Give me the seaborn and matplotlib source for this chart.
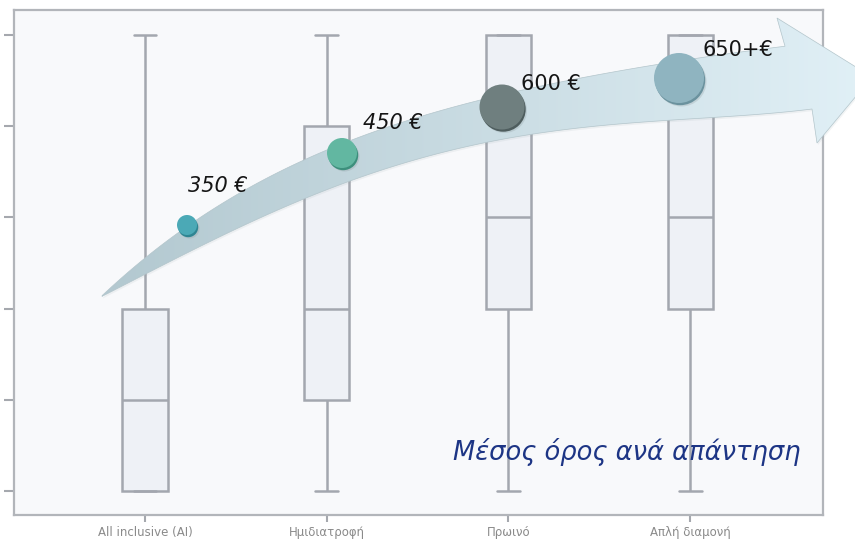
import numpy as np
import pandas as pd
import matplotlib
matplotlib.use("Agg")
import matplotlib.pyplot as plt
from matplotlib.patches import Polygon, Circle
import seaborn as sns

# Board options (x axis) and the answers given for each (1-6 scale)
categories = ["All inclusive (AI)", "Ημιδιατροφή", "Πρωινό", "Απλή διαμονή"]
answers_ai = [1, 1, 2, 3, 6]
answers_half = [1, 2, 3, 5, 6]
answers_breakfast = [1, 3, 4, 6, 6]
answers_room = [1, 3, 4, 6, 6]
y_ticks = [1, 2, 3, 4, 5, 6]

# Average spend per answer, shown on the arrow
price_values = [350, 450, 600, 650]
price_labels = ["350 €", "450 €", "600 €", "650+€"]
caption = "Μέσος όρος ανά απάντηση"

df = pd.DataFrame({
    "option": sum([[c] * len(v) for c, v in zip(
        categories, [answers_ai, answers_half, answers_breakfast, answers_room])], []),
    "answer": answers_ai + answers_half + answers_breakfast + answers_room,
})

sns.set_style("white")
W, H = 855, 543
fig = plt.figure(figsize=(W / 100, H / 100), dpi=100)
fig.patch.set_facecolor("white")

# main plotting area in pixel terms
left, right, top, bottom = 14, 823, 10, 515
ax = fig.add_axes([left / W, 1 - bottom / H, (right - left) / W, (bottom - top) / H])
ax.set_facecolor("#f8f9fb")

sns.boxplot(data=df, x="option", y="answer", order=categories, ax=ax,
            width=0.25, color="#eef1f6", saturation=1, linecolor="#a3a7af",
            linewidth=1.8, whis=1.5, showfliers=False)

ax.set_xlim(-0.72, 3.73)
ax.set_ylim(1 - 24 / 91.2, 6 + 25 / 91.2)
ax.set_yticks(y_ticks)
ax.set_xlabel("")
ax.set_ylabel("")
ax.tick_params(axis="y", left=True, length=7, width=1.5, color="#a5a8ae", labelleft=False)
ax.tick_params(axis="x", bottom=True, length=5, width=1.5, color="#a5a8ae",
               labelsize=8.5, labelcolor="#8a8a8a", pad=3)
for s in ax.spines.values():
    s.set_color("#b2b5ba")
    s.set_linewidth(1.6)

# overlay in pixel coordinates for the arrow, buttons and captions
ov = fig.add_axes([0, 0, 1, 1], zorder=5)
ov.set_xlim(0, W)
ov.set_ylim(H, 0)
ov.axis("off")
ov.patch.set_alpha(0)

top_pts = np.array([(102, 295), (143, 262), (190, 222), (240, 193), (290, 168),
                    (342, 143), (430, 113), (483, 100), (530, 90), (590, 74),
                    (657, 65), (723, 55), (785, 46)], float)
bot_pts = np.array([(102, 295), (143, 277), (190, 252), (240, 227), (290, 205),
                    (330, 188), (397, 163), (463, 147), (530, 137), (590, 128),
                    (690, 117), (777, 112), (812, 110)], float)
ct = np.polyfit(top_pts[:, 0], top_pts[:, 1], 4)
cb = np.polyfit(bot_pts[:, 0], bot_pts[:, 1], 4)
xt = np.linspace(102, 785, 200)
xb = np.linspace(812, 102, 200)
outline = np.vstack([
    np.column_stack([xt, np.polyval(ct, xt)]),
    [(777, 18), (872, 77), (817, 143)],
    np.column_stack([xb, np.polyval(cb, xb)]),
])
# soft shadow under the arrow
shadow = Polygon(outline + [1.0, 2.0], closed=True, facecolor="#9aa9ae", alpha=0.12,
                 edgecolor="none")
ov.add_patch(shadow)
arrow = Polygon(outline, closed=True, facecolor="none", edgecolor="#b3c5cb", lw=0.5)
ov.add_patch(arrow)

# horizontal colour gradient inside the arrow
gx = np.linspace(0, 1, 400)
c0 = np.array([0.70, 0.785, 0.815])
c1 = np.array([0.88, 0.94, 0.965])
t = np.clip((gx * W - 100) / 760, 0, 1)[None, :, None]
grad = c0 + (c1 - c0) * t
grad = np.repeat(grad, 2, axis=0)
img = ov.imshow(grad, extent=(0, W, H, 0), aspect="auto", interpolation="bilinear",
                zorder=1)
img.set_clip_path(arrow)
arrow.set_zorder(2)

# 3D-looking buttons, size taken from the price
centers = [(187, 225), (342, 153), (502, 107), (679, 78)]
faces = ["#4ba9b6", "#62b7a1", "#6f7f7f", "#8fb4c0"]
rims = ["#2f8592", "#3d8f7c", "#4e5d5e", "#6b929e"]
for (cx, cy), v, fc, rc in zip(centers, price_values, faces, rims):
    r = (v - 150) / 20
    ov.add_patch(Circle((cx + 2.5, cy + 3.5), r, facecolor="#7d8a8c", alpha=0.22,
                        edgecolor="none", zorder=3))
    ov.add_patch(Circle((cx + 1.2, cy + 2.2), r, facecolor=rc, edgecolor="none", zorder=4))
    ov.add_patch(Circle((cx, cy), r, facecolor=fc, edgecolor="none", zorder=5))

label_pos = [(218, 186), (393, 123), (551, 84), (738, 50)]
label_style = ["italic", "italic", "normal", "normal"]
for (lx, ly), txt, st in zip(label_pos, price_labels, label_style):
    ov.text(lx, ly, txt, ha="center", va="center", fontsize=15, style=st,
            color="#151515", family="DejaVu Sans", zorder=7)

ov.text(453, 452, caption, ha="left", va="center", fontsize=18.5, style="italic",
        color="#1d3585", family="DejaVu Sans", zorder=7)

fig.savefig("out.png", dpi=100)
